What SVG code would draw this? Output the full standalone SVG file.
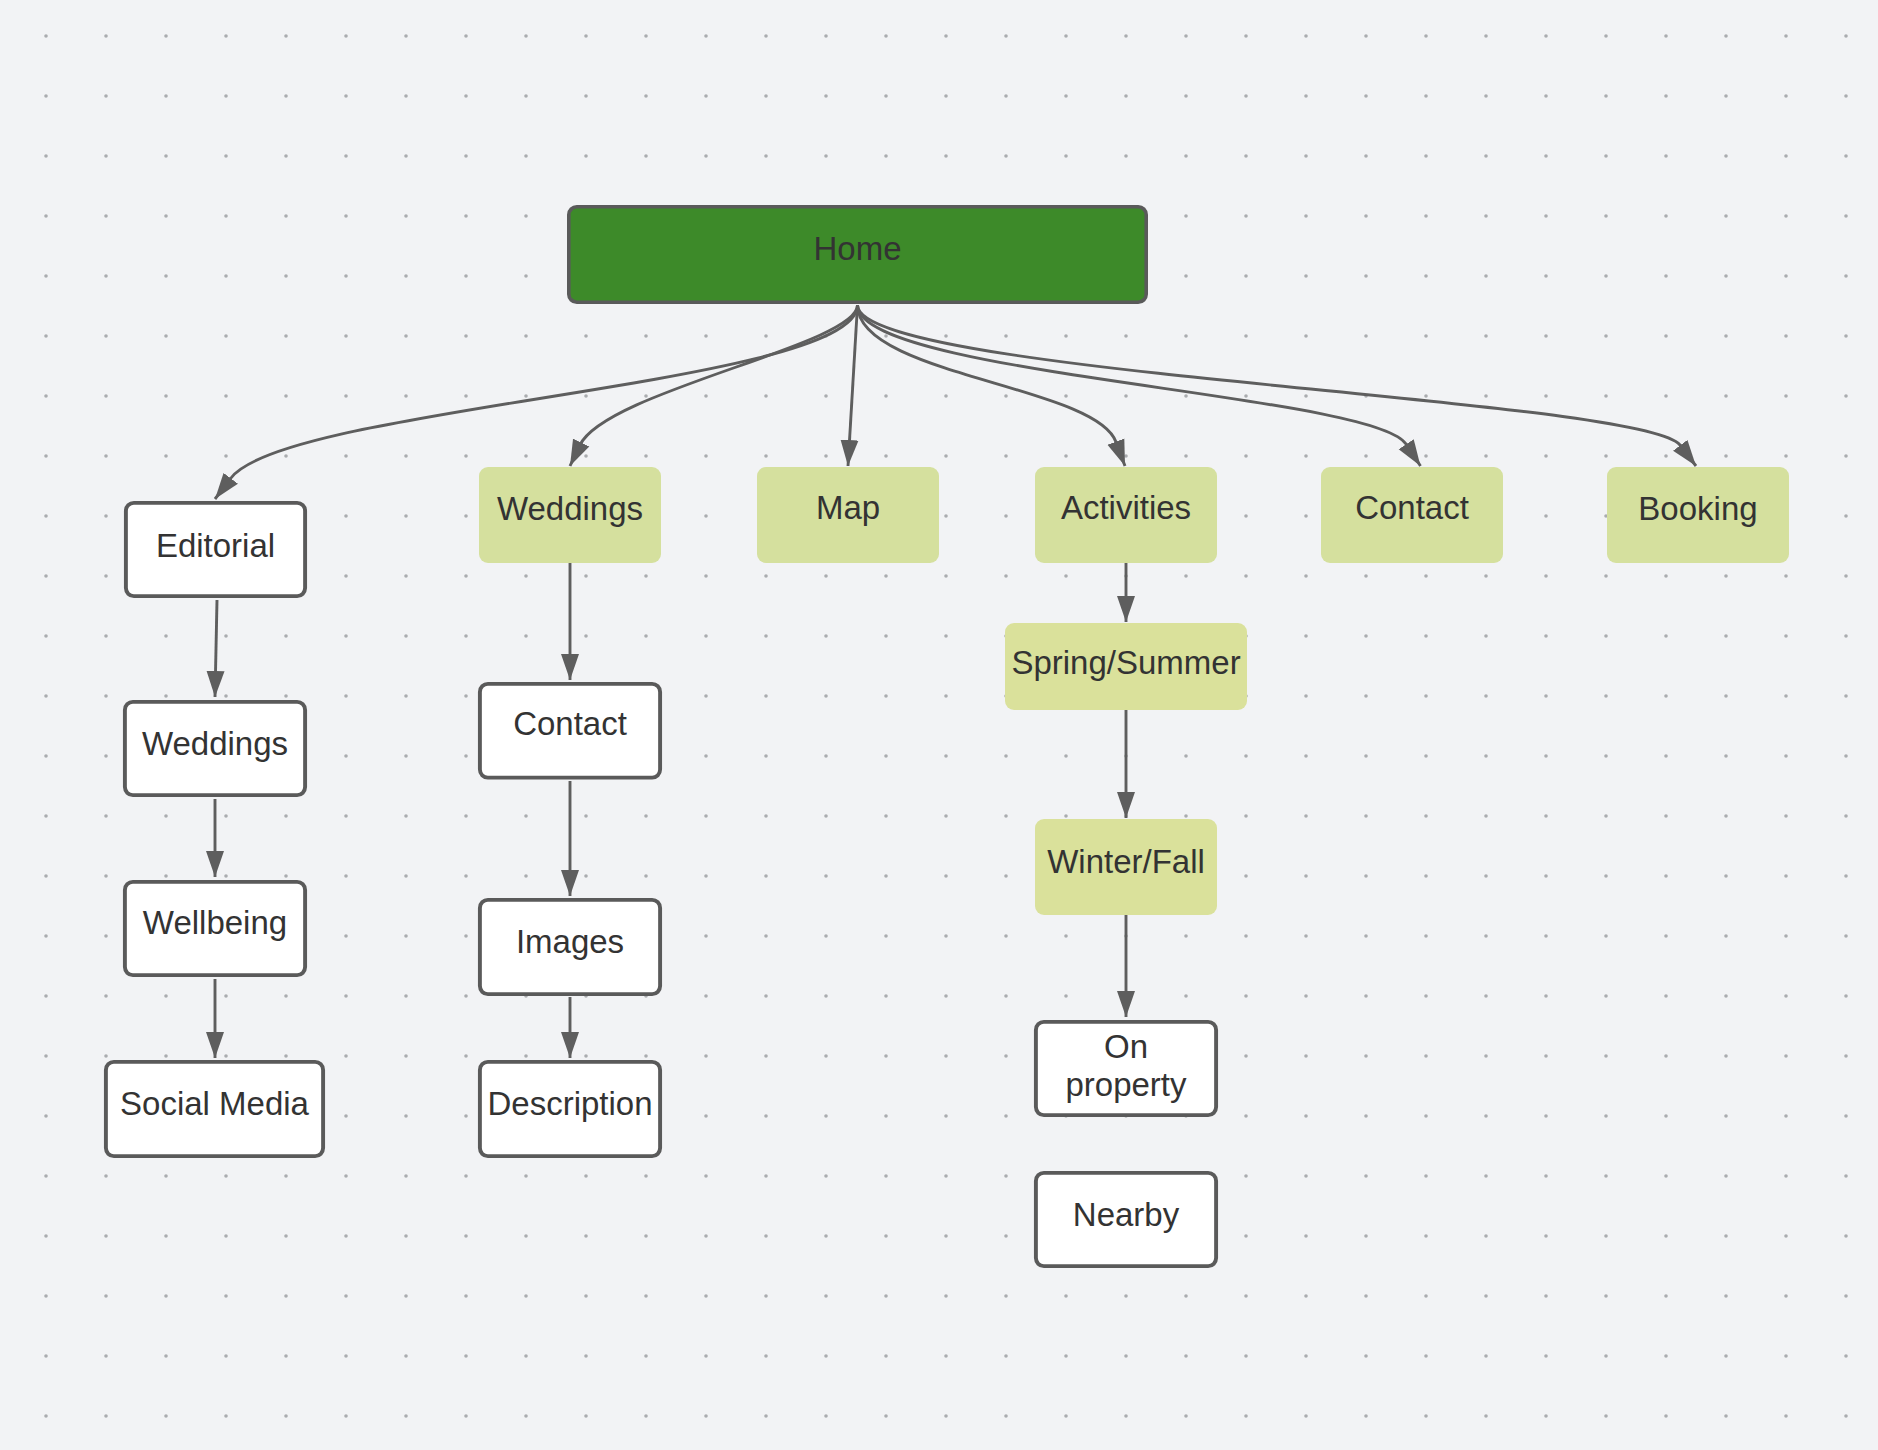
<svg xmlns="http://www.w3.org/2000/svg" width="1878" height="1450" viewBox="0 0 1878 1450">
  <style>
    .bg { fill: #f2f3f5; }
    .box { fill: #ffffff; stroke: #5a5a5a; stroke-width: 3.9; }
    .home { fill: #3d8a29; stroke: #5a5a5a; stroke-width: 3.6; }
    .lg { fill: #d5e09e; }
    .lg2 { fill: #dae19b; }
    .lbl { font-family: "Liberation Sans", Arial, sans-serif; font-size: 33px; fill: #333333; text-anchor: middle; }
    .conn { fill: none; stroke: #5e5e5e; stroke-width: 2.9; marker-end: url(#arrow); }
  </style>
  <defs>
    <pattern id="dots" x="16" y="6" width="60" height="60" patternUnits="userSpaceOnUse">
      <circle cx="30" cy="30" r="1.8" fill="#aaacaf"/>
    </pattern>
    <marker id="arrow" markerUnits="userSpaceOnUse" markerWidth="27" markerHeight="19" viewBox="0 0 27 19" refX="26" refY="9.5" orient="auto">
      <path d="M0,0.5 L26,9.5 L0,18.5 z" fill="#5e5e5e"/>
    </marker>
  </defs>
  <rect class="bg" x="0" y="0" width="1878" height="1450"/>
  <rect x="0" y="0" width="1878" height="1450" fill="url(#dots)"/>

  <g id="connectors">
    <path class="conn" d="M857.5,305 C857.5,385 285,406 231,478 L215,499"/>
    <path class="conn" d="M857.5,305 C857.5,345 606,391 580,445 L570,466"/>
    <path class="conn" d="M857.5,305 L848,466"/>
    <path class="conn" d="M857.5,305 C857.5,375 1095.6,385.6 1116,442 L1125,466"/>
    <path class="conn" d="M857.5,305 C857.5,375 1373.6,393.6 1406,444 L1420.5,466"/>
    <path class="conn" d="M857.5,305 C857.5,375 1643.4,397.6 1680,445 L1696,466"/>
    <path class="conn" d="M217,600 L215,697"/>
    <path class="conn" d="M215,799 L215,877"/>
    <path class="conn" d="M215,979 L215,1058"/>
    <path class="conn" d="M570,563 L570,680"/>
    <path class="conn" d="M570,781 L570,896"/>
    <path class="conn" d="M570,997 L570,1058"/>
    <path class="conn" d="M1126,563 L1126,622"/>
    <path class="conn" d="M1126,710 L1126,818"/>
    <path class="conn" d="M1126,915 L1126,1017"/>
  </g>

  <g id="home">
    <rect class="home" x="568.8" y="206.8" width="577.4" height="95.4" rx="8"/>
    <text class="lbl" x="857.5" y="259.5">Home</text>
  </g>
  <g id="editorial">
    <rect class="box" x="125.9" y="502.9" width="179.2" height="93.2" rx="8"/>
    <text class="lbl" x="215.5" y="557">Editorial</text>
  </g>
  <g id="editorial-weddings">
    <rect class="box" x="124.9" y="701.9" width="180.2" height="93.2" rx="8"/>
    <text class="lbl" x="215" y="755">Weddings</text>
  </g>
  <g id="wellbeing">
    <rect class="box" x="124.9" y="881.9" width="180.2" height="93.2" rx="8"/>
    <text class="lbl" x="215" y="933.5">Wellbeing</text>
  </g>
  <g id="social-media">
    <rect class="box" x="105.9" y="1061.9" width="217.2" height="94.2" rx="8"/>
    <text class="lbl" x="214.5" y="1114.5">Social Media</text>
  </g>
  <g id="weddings">
    <rect class="lg" x="479" y="467" width="182" height="96" rx="9"/>
    <text class="lbl" x="570" y="520">Weddings</text>
  </g>
  <g id="weddings-contact">
    <rect class="box" x="479.9" y="683.9" width="180.2" height="93.7" rx="8"/>
    <text class="lbl" x="570" y="735">Contact</text>
  </g>
  <g id="images">
    <rect class="box" x="479.9" y="899.9" width="180.2" height="94.2" rx="8"/>
    <text class="lbl" x="570" y="952.5">Images</text>
  </g>
  <g id="description">
    <rect class="box" x="479.9" y="1061.9" width="180.2" height="94.2" rx="8"/>
    <text class="lbl" x="570" y="1114.5">Description</text>
  </g>
  <g id="map">
    <rect class="lg" x="757" y="467" width="182" height="96" rx="9"/>
    <text class="lbl" x="848" y="519">Map</text>
  </g>
  <g id="activities">
    <rect class="lg" x="1035" y="467" width="182" height="96" rx="9"/>
    <text class="lbl" x="1126" y="519">Activities</text>
  </g>
  <g id="contact">
    <rect class="lg" x="1321" y="467" width="182" height="96" rx="9"/>
    <text class="lbl" x="1412" y="519">Contact</text>
  </g>
  <g id="booking">
    <rect class="lg" x="1607" y="467" width="182" height="96" rx="9"/>
    <text class="lbl" x="1698" y="520">Booking</text>
  </g>
  <g id="spring-summer">
    <rect class="lg2" x="1005" y="623" width="242" height="87" rx="9"/>
    <text class="lbl" x="1126" y="674">Spring/Summer</text>
  </g>
  <g id="winter-fall">
    <rect class="lg2" x="1035" y="819" width="182" height="96" rx="9"/>
    <text class="lbl" x="1126" y="873">Winter/Fall</text>
  </g>
  <g id="on-property">
    <rect class="box" x="1035.9" y="1021.9" width="180.2" height="93.2" rx="8"/>
    <text class="lbl" x="1126" y="1058">On</text>
    <text class="lbl" x="1126" y="1096">property</text>
  </g>
  <g id="nearby">
    <rect class="box" x="1035.9" y="1172.9" width="180.2" height="93.2" rx="8"/>
    <text class="lbl" x="1126" y="1226">Nearby</text>
  </g>
</svg>
